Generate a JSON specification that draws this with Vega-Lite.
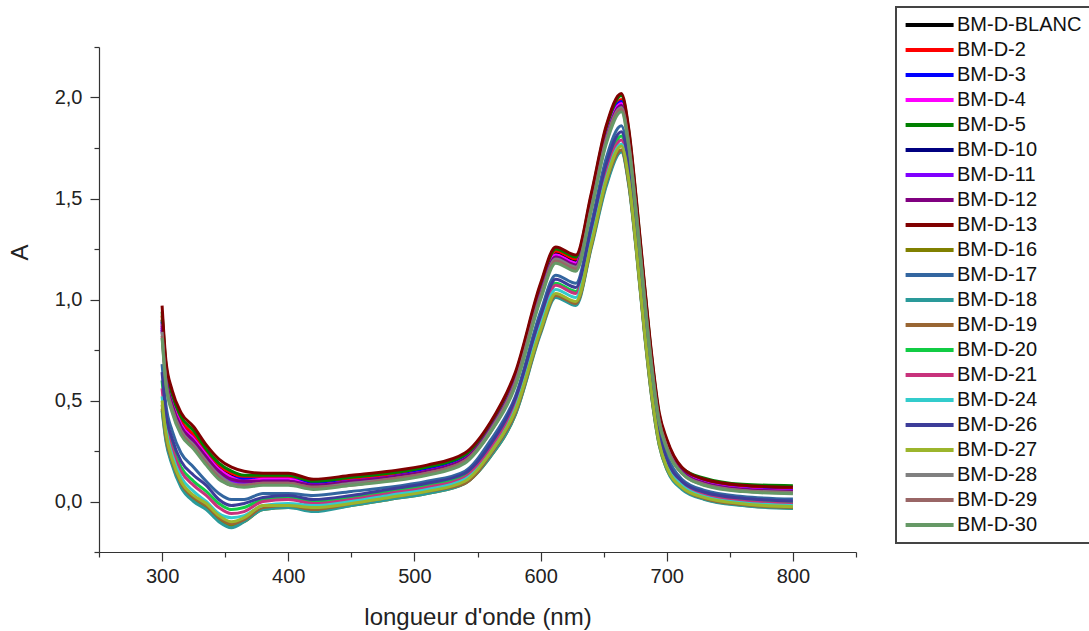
{
"$schema": "https://vega.github.io/schema/vega-lite/v6.json",
"width": 757,
"height": 505,
"autosize": "none",
"padding": {"left": 99, "top": 47, "right": 233, "bottom": 79},
"background": "white",
"config": {"view": {"stroke": null}, "font": "Liberation Sans", "legend": {"strokeWidth": 2}},
"data": {"values": [
{"s":"BLANC","x":300,"y":0.90},{"s":"BLANC","x":303,"y":0.65},{"s":"BLANC","x":308,"y":0.50},{"s":"BLANC","x":315,"y":0.39},{"s":"BLANC","x":325,"y":0.32},{"s":"BLANC","x":335,"y":0.24},{"s":"BLANC","x":345,"y":0.17},{"s":"BLANC","x":355,"y":0.13},{"s":"BLANC","x":365,"y":0.11},{"s":"BLANC","x":380,"y":0.11},{"s":"BLANC","x":400,"y":0.11},{"s":"BLANC","x":420,"y":0.09},{"s":"BLANC","x":450,"y":0.11},{"s":"BLANC","x":480,"y":0.13},{"s":"BLANC","x":510,"y":0.16},{"s":"BLANC","x":540,"y":0.22},{"s":"BLANC","x":560,"y":0.37},{"s":"BLANC","x":580,"y":0.61},{"s":"BLANC","x":600,"y":1.05},{"s":"BLANC","x":612,"y":1.23},{"s":"BLANC","x":628,"y":1.19},{"s":"BLANC","x":640,"y":1.48},{"s":"BLANC","x":652,"y":1.82},{"s":"BLANC","x":664,"y":1.98},{"s":"BLANC","x":670,"y":1.80},{"s":"BLANC","x":676,"y":1.46},{"s":"BLANC","x":682,"y":1.07},{"s":"BLANC","x":688,"y":0.70},{"s":"BLANC","x":694,"y":0.42},{"s":"BLANC","x":700,"y":0.29},{"s":"BLANC","x":712,"y":0.16},{"s":"BLANC","x":730,"y":0.097},{"s":"BLANC","x":760,"y":0.067},{"s":"BLANC","x":800,"y":0.056},
{"s":"2","x":300,"y":0.92},{"s":"2","x":303,"y":0.66},{"s":"2","x":308,"y":0.51},{"s":"2","x":315,"y":0.40},{"s":"2","x":325,"y":0.33},{"s":"2","x":335,"y":0.25},{"s":"2","x":345,"y":0.18},{"s":"2","x":355,"y":0.14},{"s":"2","x":365,"y":0.12},{"s":"2","x":380,"y":0.12},{"s":"2","x":400,"y":0.12},{"s":"2","x":420,"y":0.10},{"s":"2","x":450,"y":0.11},{"s":"2","x":480,"y":0.13},{"s":"2","x":510,"y":0.16},{"s":"2","x":540,"y":0.22},{"s":"2","x":560,"y":0.37},{"s":"2","x":580,"y":0.62},{"s":"2","x":600,"y":1.06},{"s":"2","x":612,"y":1.24},{"s":"2","x":628,"y":1.20},{"s":"2","x":640,"y":1.49},{"s":"2","x":652,"y":1.83},{"s":"2","x":664,"y":1.99},{"s":"2","x":670,"y":1.81},{"s":"2","x":676,"y":1.46},{"s":"2","x":682,"y":1.08},{"s":"2","x":688,"y":0.71},{"s":"2","x":694,"y":0.42},{"s":"2","x":700,"y":0.30},{"s":"2","x":712,"y":0.16},{"s":"2","x":730,"y":0.10},{"s":"2","x":760,"y":0.07},{"s":"2","x":800,"y":0.06},
{"s":"3","x":300,"y":0.89},{"s":"3","x":303,"y":0.64},{"s":"3","x":308,"y":0.49},{"s":"3","x":315,"y":0.38},{"s":"3","x":325,"y":0.31},{"s":"3","x":335,"y":0.23},{"s":"3","x":345,"y":0.16},{"s":"3","x":355,"y":0.12},{"s":"3","x":365,"y":0.11},{"s":"3","x":380,"y":0.11},{"s":"3","x":400,"y":0.11},{"s":"3","x":420,"y":0.09},{"s":"3","x":450,"y":0.10},{"s":"3","x":480,"y":0.12},{"s":"3","x":510,"y":0.16},{"s":"3","x":540,"y":0.22},{"s":"3","x":560,"y":0.36},{"s":"3","x":580,"y":0.61},{"s":"3","x":600,"y":1.04},{"s":"3","x":612,"y":1.22},{"s":"3","x":628,"y":1.18},{"s":"3","x":640,"y":1.48},{"s":"3","x":652,"y":1.82},{"s":"3","x":664,"y":1.98},{"s":"3","x":670,"y":1.80},{"s":"3","x":676,"y":1.45},{"s":"3","x":682,"y":1.06},{"s":"3","x":688,"y":0.70},{"s":"3","x":694,"y":0.42},{"s":"3","x":700,"y":0.29},{"s":"3","x":712,"y":0.15},{"s":"3","x":730,"y":0.095},{"s":"3","x":760,"y":0.065},{"s":"3","x":800,"y":0.054},
{"s":"4","x":300,"y":0.88},{"s":"4","x":303,"y":0.63},{"s":"4","x":308,"y":0.49},{"s":"4","x":315,"y":0.38},{"s":"4","x":325,"y":0.31},{"s":"4","x":335,"y":0.23},{"s":"4","x":345,"y":0.16},{"s":"4","x":355,"y":0.12},{"s":"4","x":365,"y":0.10},{"s":"4","x":380,"y":0.11},{"s":"4","x":400,"y":0.11},{"s":"4","x":420,"y":0.08},{"s":"4","x":450,"y":0.10},{"s":"4","x":480,"y":0.12},{"s":"4","x":510,"y":0.15},{"s":"4","x":540,"y":0.21},{"s":"4","x":560,"y":0.36},{"s":"4","x":580,"y":0.60},{"s":"4","x":600,"y":1.04},{"s":"4","x":612,"y":1.22},{"s":"4","x":628,"y":1.18},{"s":"4","x":640,"y":1.47},{"s":"4","x":652,"y":1.81},{"s":"4","x":664,"y":1.97},{"s":"4","x":670,"y":1.79},{"s":"4","x":676,"y":1.45},{"s":"4","x":682,"y":1.06},{"s":"4","x":688,"y":0.69},{"s":"4","x":694,"y":0.41},{"s":"4","x":700,"y":0.28},{"s":"4","x":712,"y":0.15},{"s":"4","x":730,"y":0.093},{"s":"4","x":760,"y":0.063},{"s":"4","x":800,"y":0.052},
{"s":"5","x":300,"y":0.94},{"s":"5","x":303,"y":0.68},{"s":"5","x":308,"y":0.53},{"s":"5","x":315,"y":0.42},{"s":"5","x":325,"y":0.35},{"s":"5","x":335,"y":0.26},{"s":"5","x":345,"y":0.19},{"s":"5","x":355,"y":0.15},{"s":"5","x":365,"y":0.13},{"s":"5","x":380,"y":0.13},{"s":"5","x":400,"y":0.13},{"s":"5","x":420,"y":0.10},{"s":"5","x":450,"y":0.12},{"s":"5","x":480,"y":0.14},{"s":"5","x":510,"y":0.17},{"s":"5","x":540,"y":0.23},{"s":"5","x":560,"y":0.38},{"s":"5","x":580,"y":0.63},{"s":"5","x":600,"y":1.07},{"s":"5","x":612,"y":1.25},{"s":"5","x":628,"y":1.21},{"s":"5","x":640,"y":1.51},{"s":"5","x":652,"y":1.85},{"s":"5","x":664,"y":2.01},{"s":"5","x":670,"y":1.83},{"s":"5","x":676,"y":1.48},{"s":"5","x":682,"y":1.09},{"s":"5","x":688,"y":0.72},{"s":"5","x":694,"y":0.43},{"s":"5","x":700,"y":0.30},{"s":"5","x":712,"y":0.165},{"s":"5","x":730,"y":0.115},{"s":"5","x":760,"y":0.085},{"s":"5","x":800,"y":0.078},
{"s":"10","x":300,"y":0.85},{"s":"10","x":303,"y":0.61},{"s":"10","x":308,"y":0.46},{"s":"10","x":315,"y":0.35},{"s":"10","x":325,"y":0.28},{"s":"10","x":335,"y":0.21},{"s":"10","x":345,"y":0.14},{"s":"10","x":355,"y":0.10},{"s":"10","x":365,"y":0.09},{"s":"10","x":380,"y":0.10},{"s":"10","x":400,"y":0.10},{"s":"10","x":420,"y":0.07},{"s":"10","x":450,"y":0.09},{"s":"10","x":480,"y":0.11},{"s":"10","x":510,"y":0.14},{"s":"10","x":540,"y":0.20},{"s":"10","x":560,"y":0.35},{"s":"10","x":580,"y":0.59},{"s":"10","x":600,"y":1.02},{"s":"10","x":612,"y":1.20},{"s":"10","x":628,"y":1.16},{"s":"10","x":640,"y":1.46},{"s":"10","x":652,"y":1.79},{"s":"10","x":664,"y":1.95},{"s":"10","x":670,"y":1.78},{"s":"10","x":676,"y":1.43},{"s":"10","x":682,"y":1.04},{"s":"10","x":688,"y":0.68},{"s":"10","x":694,"y":0.40},{"s":"10","x":700,"y":0.28},{"s":"10","x":712,"y":0.15},{"s":"10","x":730,"y":0.087},{"s":"10","x":760,"y":0.057},{"s":"10","x":800,"y":0.046},
{"s":"11","x":300,"y":0.86},{"s":"11","x":303,"y":0.62},{"s":"11","x":308,"y":0.47},{"s":"11","x":315,"y":0.36},{"s":"11","x":325,"y":0.29},{"s":"11","x":335,"y":0.21},{"s":"11","x":345,"y":0.14},{"s":"11","x":355,"y":0.10},{"s":"11","x":365,"y":0.09},{"s":"11","x":380,"y":0.10},{"s":"11","x":400,"y":0.10},{"s":"11","x":420,"y":0.08},{"s":"11","x":450,"y":0.10},{"s":"11","x":480,"y":0.12},{"s":"11","x":510,"y":0.15},{"s":"11","x":540,"y":0.21},{"s":"11","x":560,"y":0.35},{"s":"11","x":580,"y":0.60},{"s":"11","x":600,"y":1.03},{"s":"11","x":612,"y":1.21},{"s":"11","x":628,"y":1.17},{"s":"11","x":640,"y":1.46},{"s":"11","x":652,"y":1.80},{"s":"11","x":664,"y":1.96},{"s":"11","x":670,"y":1.78},{"s":"11","x":676,"y":1.44},{"s":"11","x":682,"y":1.05},{"s":"11","x":688,"y":0.69},{"s":"11","x":694,"y":0.41},{"s":"11","x":700,"y":0.28},{"s":"11","x":712,"y":0.15},{"s":"11","x":730,"y":0.089},{"s":"11","x":760,"y":0.059},{"s":"11","x":800,"y":0.048},
{"s":"12","x":300,"y":0.87},{"s":"12","x":303,"y":0.62},{"s":"12","x":308,"y":0.48},{"s":"12","x":315,"y":0.37},{"s":"12","x":325,"y":0.30},{"s":"12","x":335,"y":0.22},{"s":"12","x":345,"y":0.15},{"s":"12","x":355,"y":0.11},{"s":"12","x":365,"y":0.10},{"s":"12","x":380,"y":0.10},{"s":"12","x":400,"y":0.10},{"s":"12","x":420,"y":0.08},{"s":"12","x":450,"y":0.10},{"s":"12","x":480,"y":0.12},{"s":"12","x":510,"y":0.15},{"s":"12","x":540,"y":0.21},{"s":"12","x":560,"y":0.36},{"s":"12","x":580,"y":0.60},{"s":"12","x":600,"y":1.03},{"s":"12","x":612,"y":1.21},{"s":"12","x":628,"y":1.17},{"s":"12","x":640,"y":1.47},{"s":"12","x":652,"y":1.80},{"s":"12","x":664,"y":1.96},{"s":"12","x":670,"y":1.79},{"s":"12","x":676,"y":1.44},{"s":"12","x":682,"y":1.05},{"s":"12","x":688,"y":0.69},{"s":"12","x":694,"y":0.41},{"s":"12","x":700,"y":0.28},{"s":"12","x":712,"y":0.15},{"s":"12","x":730,"y":0.091},{"s":"12","x":760,"y":0.061},{"s":"12","x":800,"y":0.05},
{"s":"13","x":300,"y":0.97},{"s":"13","x":303,"y":0.70},{"s":"13","x":308,"y":0.55},{"s":"13","x":315,"y":0.44},{"s":"13","x":325,"y":0.37},{"s":"13","x":335,"y":0.28},{"s":"13","x":345,"y":0.21},{"s":"13","x":355,"y":0.17},{"s":"13","x":365,"y":0.15},{"s":"13","x":380,"y":0.14},{"s":"13","x":400,"y":0.14},{"s":"13","x":420,"y":0.11},{"s":"13","x":450,"y":0.13},{"s":"13","x":480,"y":0.15},{"s":"13","x":510,"y":0.18},{"s":"13","x":540,"y":0.24},{"s":"13","x":560,"y":0.39},{"s":"13","x":580,"y":0.64},{"s":"13","x":600,"y":1.08},{"s":"13","x":612,"y":1.26},{"s":"13","x":628,"y":1.22},{"s":"13","x":640,"y":1.52},{"s":"13","x":652,"y":1.86},{"s":"13","x":664,"y":2.02},{"s":"13","x":670,"y":1.84},{"s":"13","x":676,"y":1.49},{"s":"13","x":682,"y":1.10},{"s":"13","x":688,"y":0.73},{"s":"13","x":694,"y":0.44},{"s":"13","x":700,"y":0.31},{"s":"13","x":712,"y":0.17},{"s":"13","x":730,"y":0.11},{"s":"13","x":760,"y":0.08},{"s":"13","x":800,"y":0.07},
{"s":"16","x":300,"y":0.46},{"s":"16","x":303,"y":0.31},{"s":"16","x":308,"y":0.19},{"s":"16","x":315,"y":0.08},{"s":"16","x":325,"y":0.01},{"s":"16","x":335,"y":-0.03},{"s":"16","x":345,"y":-0.09},{"s":"16","x":355,"y":-0.12},{"s":"16","x":365,"y":-0.10},{"s":"16","x":380,"y":-0.04},{"s":"16","x":400,"y":-0.03},{"s":"16","x":420,"y":-0.04},{"s":"16","x":450,"y":-0.02},{"s":"16","x":480,"y":0.01},{"s":"16","x":510,"y":0.04},{"s":"16","x":540,"y":0.09},{"s":"16","x":560,"y":0.22},{"s":"16","x":580,"y":0.43},{"s":"16","x":600,"y":0.84},{"s":"16","x":612,"y":1.02},{"s":"16","x":628,"y":0.98},{"s":"16","x":640,"y":1.26},{"s":"16","x":652,"y":1.57},{"s":"16","x":664,"y":1.74},{"s":"16","x":670,"y":1.57},{"s":"16","x":676,"y":1.24},{"s":"16","x":682,"y":0.86},{"s":"16","x":688,"y":0.52},{"s":"16","x":694,"y":0.28},{"s":"16","x":700,"y":0.16},{"s":"16","x":712,"y":0.07},{"s":"16","x":730,"y":0.012},{"s":"16","x":760,"y":-0.018},{"s":"16","x":800,"y":-0.033},
{"s":"17","x":300,"y":0.68},{"s":"17","x":303,"y":0.48},{"s":"17","x":308,"y":0.35},{"s":"17","x":315,"y":0.24},{"s":"17","x":325,"y":0.17},{"s":"17","x":335,"y":0.10},{"s":"17","x":345,"y":0.04},{"s":"17","x":355,"y":0.01},{"s":"17","x":365,"y":0.01},{"s":"17","x":380,"y":0.04},{"s":"17","x":400,"y":0.04},{"s":"17","x":420,"y":0.03},{"s":"17","x":450,"y":0.05},{"s":"17","x":480,"y":0.07},{"s":"17","x":510,"y":0.10},{"s":"17","x":540,"y":0.15},{"s":"17","x":560,"y":0.30},{"s":"17","x":580,"y":0.52},{"s":"17","x":600,"y":0.94},{"s":"17","x":612,"y":1.12},{"s":"17","x":628,"y":1.08},{"s":"17","x":640,"y":1.37},{"s":"17","x":652,"y":1.70},{"s":"17","x":664,"y":1.86},{"s":"17","x":670,"y":1.69},{"s":"17","x":676,"y":1.35},{"s":"17","x":682,"y":0.96},{"s":"17","x":688,"y":0.61},{"s":"17","x":694,"y":0.35},{"s":"17","x":700,"y":0.23},{"s":"17","x":712,"y":0.11},{"s":"17","x":730,"y":0.055},{"s":"17","x":760,"y":0.025},{"s":"17","x":800,"y":0.012},
{"s":"18","x":300,"y":0.45},{"s":"18","x":303,"y":0.30},{"s":"18","x":308,"y":0.18},{"s":"18","x":315,"y":0.07},{"s":"18","x":325,"y":0.00},{"s":"18","x":335,"y":-0.04},{"s":"18","x":345,"y":-0.10},{"s":"18","x":355,"y":-0.13},{"s":"18","x":365,"y":-0.10},{"s":"18","x":380,"y":-0.04},{"s":"18","x":400,"y":-0.03},{"s":"18","x":420,"y":-0.05},{"s":"18","x":450,"y":-0.02},{"s":"18","x":480,"y":0.01},{"s":"18","x":510,"y":0.04},{"s":"18","x":540,"y":0.09},{"s":"18","x":560,"y":0.22},{"s":"18","x":580,"y":0.43},{"s":"18","x":600,"y":0.83},{"s":"18","x":612,"y":1.01},{"s":"18","x":628,"y":0.97},{"s":"18","x":640,"y":1.25},{"s":"18","x":652,"y":1.56},{"s":"18","x":664,"y":1.73},{"s":"18","x":670,"y":1.56},{"s":"18","x":676,"y":1.23},{"s":"18","x":682,"y":0.85},{"s":"18","x":688,"y":0.52},{"s":"18","x":694,"y":0.28},{"s":"18","x":700,"y":0.16},{"s":"18","x":712,"y":0.06},{"s":"18","x":730,"y":0.01},{"s":"18","x":760,"y":-0.02},{"s":"18","x":800,"y":-0.035},
{"s":"19","x":300,"y":0.48},{"s":"19","x":303,"y":0.32},{"s":"19","x":308,"y":0.20},{"s":"19","x":315,"y":0.09},{"s":"19","x":325,"y":0.02},{"s":"19","x":335,"y":-0.02},{"s":"19","x":345,"y":-0.08},{"s":"19","x":355,"y":-0.11},{"s":"19","x":365,"y":-0.09},{"s":"19","x":380,"y":-0.03},{"s":"19","x":400,"y":-0.02},{"s":"19","x":420,"y":-0.04},{"s":"19","x":450,"y":-0.01},{"s":"19","x":480,"y":0.02},{"s":"19","x":510,"y":0.05},{"s":"19","x":540,"y":0.09},{"s":"19","x":560,"y":0.23},{"s":"19","x":580,"y":0.44},{"s":"19","x":600,"y":0.84},{"s":"19","x":612,"y":1.02},{"s":"19","x":628,"y":0.98},{"s":"19","x":640,"y":1.26},{"s":"19","x":652,"y":1.58},{"s":"19","x":664,"y":1.74},{"s":"19","x":670,"y":1.57},{"s":"19","x":676,"y":1.24},{"s":"19","x":682,"y":0.86},{"s":"19","x":688,"y":0.53},{"s":"19","x":694,"y":0.29},{"s":"19","x":700,"y":0.17},{"s":"19","x":712,"y":0.07},{"s":"19","x":730,"y":0.015},{"s":"19","x":760,"y":-0.015},{"s":"19","x":800,"y":-0.03},
{"s":"20","x":300,"y":0.60},{"s":"20","x":303,"y":0.41},{"s":"20","x":308,"y":0.28},{"s":"20","x":315,"y":0.17},{"s":"20","x":325,"y":0.10},{"s":"20","x":335,"y":0.05},{"s":"20","x":345,"y":-0.01},{"s":"20","x":355,"y":-0.04},{"s":"20","x":365,"y":-0.03},{"s":"20","x":380,"y":0.01},{"s":"20","x":400,"y":0.02},{"s":"20","x":420,"y":0.00},{"s":"20","x":450,"y":0.02},{"s":"20","x":480,"y":0.05},{"s":"20","x":510,"y":0.08},{"s":"20","x":540,"y":0.13},{"s":"20","x":560,"y":0.27},{"s":"20","x":580,"y":0.49},{"s":"20","x":600,"y":0.90},{"s":"20","x":612,"y":1.08},{"s":"20","x":628,"y":1.04},{"s":"20","x":640,"y":1.33},{"s":"20","x":652,"y":1.64},{"s":"20","x":664,"y":1.81},{"s":"20","x":670,"y":1.64},{"s":"20","x":676,"y":1.30},{"s":"20","x":682,"y":0.92},{"s":"20","x":688,"y":0.58},{"s":"20","x":694,"y":0.32},{"s":"20","x":700,"y":0.20},{"s":"20","x":712,"y":0.09},{"s":"20","x":730,"y":0.038},{"s":"20","x":760,"y":0.008},{"s":"20","x":800,"y":-0.006},
{"s":"21","x":300,"y":0.56},{"s":"21","x":303,"y":0.39},{"s":"21","x":308,"y":0.26},{"s":"21","x":315,"y":0.15},{"s":"21","x":325,"y":0.08},{"s":"21","x":335,"y":0.03},{"s":"21","x":345,"y":-0.03},{"s":"21","x":355,"y":-0.06},{"s":"21","x":365,"y":-0.05},{"s":"21","x":380,"y":0.00},{"s":"21","x":400,"y":0.01},{"s":"21","x":420,"y":-0.01},{"s":"21","x":450,"y":0.01},{"s":"21","x":480,"y":0.04},{"s":"21","x":510,"y":0.07},{"s":"21","x":540,"y":0.12},{"s":"21","x":560,"y":0.26},{"s":"21","x":580,"y":0.48},{"s":"21","x":600,"y":0.89},{"s":"21","x":612,"y":1.07},{"s":"21","x":628,"y":1.03},{"s":"21","x":640,"y":1.31},{"s":"21","x":652,"y":1.63},{"s":"21","x":664,"y":1.79},{"s":"21","x":670,"y":1.62},{"s":"21","x":676,"y":1.29},{"s":"21","x":682,"y":0.91},{"s":"21","x":688,"y":0.57},{"s":"21","x":694,"y":0.32},{"s":"21","x":700,"y":0.19},{"s":"21","x":712,"y":0.09},{"s":"21","x":730,"y":0.032},{"s":"21","x":760,"y":0.002},{"s":"21","x":800,"y":-0.012},
{"s":"24","x":300,"y":0.52},{"s":"24","x":303,"y":0.36},{"s":"24","x":308,"y":0.23},{"s":"24","x":315,"y":0.12},{"s":"24","x":325,"y":0.05},{"s":"24","x":335,"y":0.00},{"s":"24","x":345,"y":-0.06},{"s":"24","x":355,"y":-0.08},{"s":"24","x":365,"y":-0.07},{"s":"24","x":380,"y":-0.02},{"s":"24","x":400,"y":-0.01},{"s":"24","x":420,"y":-0.02},{"s":"24","x":450,"y":0.00},{"s":"24","x":480,"y":0.03},{"s":"24","x":510,"y":0.06},{"s":"24","x":540,"y":0.11},{"s":"24","x":560,"y":0.24},{"s":"24","x":580,"y":0.46},{"s":"24","x":600,"y":0.87},{"s":"24","x":612,"y":1.05},{"s":"24","x":628,"y":1.01},{"s":"24","x":640,"y":1.29},{"s":"24","x":652,"y":1.60},{"s":"24","x":664,"y":1.77},{"s":"24","x":670,"y":1.60},{"s":"24","x":676,"y":1.27},{"s":"24","x":682,"y":0.89},{"s":"24","x":688,"y":0.55},{"s":"24","x":694,"y":0.30},{"s":"24","x":700,"y":0.18},{"s":"24","x":712,"y":0.08},{"s":"24","x":730,"y":0.024},{"s":"24","x":760,"y":-0.006},{"s":"24","x":800,"y":-0.02},
{"s":"26","x":300,"y":0.64},{"s":"26","x":303,"y":0.44},{"s":"26","x":308,"y":0.31},{"s":"26","x":315,"y":0.20},{"s":"26","x":325,"y":0.13},{"s":"26","x":335,"y":0.08},{"s":"26","x":345,"y":0.01},{"s":"26","x":355,"y":-0.02},{"s":"26","x":365,"y":-0.01},{"s":"26","x":380,"y":0.02},{"s":"26","x":400,"y":0.03},{"s":"26","x":420,"y":0.01},{"s":"26","x":450,"y":0.03},{"s":"26","x":480,"y":0.06},{"s":"26","x":510,"y":0.09},{"s":"26","x":540,"y":0.14},{"s":"26","x":560,"y":0.28},{"s":"26","x":580,"y":0.51},{"s":"26","x":600,"y":0.92},{"s":"26","x":612,"y":1.10},{"s":"26","x":628,"y":1.06},{"s":"26","x":640,"y":1.35},{"s":"26","x":652,"y":1.67},{"s":"26","x":664,"y":1.83},{"s":"26","x":670,"y":1.66},{"s":"26","x":676,"y":1.32},{"s":"26","x":682,"y":0.94},{"s":"26","x":688,"y":0.60},{"s":"26","x":694,"y":0.34},{"s":"26","x":700,"y":0.21},{"s":"26","x":712,"y":0.10},{"s":"26","x":730,"y":0.046},{"s":"26","x":760,"y":0.016},{"s":"26","x":800,"y":0.003},
{"s":"27","x":300,"y":0.50},{"s":"27","x":303,"y":0.34},{"s":"27","x":308,"y":0.21},{"s":"27","x":315,"y":0.10},{"s":"27","x":325,"y":0.03},{"s":"27","x":335,"y":-0.01},{"s":"27","x":345,"y":-0.07},{"s":"27","x":355,"y":-0.10},{"s":"27","x":365,"y":-0.08},{"s":"27","x":380,"y":-0.02},{"s":"27","x":400,"y":-0.02},{"s":"27","x":420,"y":-0.03},{"s":"27","x":450,"y":-0.01},{"s":"27","x":480,"y":0.02},{"s":"27","x":510,"y":0.05},{"s":"27","x":540,"y":0.10},{"s":"27","x":560,"y":0.24},{"s":"27","x":580,"y":0.45},{"s":"27","x":600,"y":0.85},{"s":"27","x":612,"y":1.03},{"s":"27","x":628,"y":0.99},{"s":"27","x":640,"y":1.27},{"s":"27","x":652,"y":1.59},{"s":"27","x":664,"y":1.76},{"s":"27","x":670,"y":1.59},{"s":"27","x":676,"y":1.25},{"s":"27","x":682,"y":0.87},{"s":"27","x":688,"y":0.54},{"s":"27","x":694,"y":0.29},{"s":"27","x":700,"y":0.17},{"s":"27","x":712,"y":0.07},{"s":"27","x":730,"y":0.019},{"s":"27","x":760,"y":-0.011},{"s":"27","x":800,"y":-0.026},
{"s":"28","x":300,"y":0.84},{"s":"28","x":303,"y":0.60},{"s":"28","x":308,"y":0.46},{"s":"28","x":315,"y":0.35},{"s":"28","x":325,"y":0.28},{"s":"28","x":335,"y":0.20},{"s":"28","x":345,"y":0.13},{"s":"28","x":355,"y":0.09},{"s":"28","x":365,"y":0.08},{"s":"28","x":380,"y":0.09},{"s":"28","x":400,"y":0.09},{"s":"28","x":420,"y":0.07},{"s":"28","x":450,"y":0.09},{"s":"28","x":480,"y":0.11},{"s":"28","x":510,"y":0.14},{"s":"28","x":540,"y":0.20},{"s":"28","x":560,"y":0.35},{"s":"28","x":580,"y":0.59},{"s":"28","x":600,"y":1.02},{"s":"28","x":612,"y":1.20},{"s":"28","x":628,"y":1.16},{"s":"28","x":640,"y":1.45},{"s":"28","x":652,"y":1.79},{"s":"28","x":664,"y":1.95},{"s":"28","x":670,"y":1.77},{"s":"28","x":676,"y":1.43},{"s":"28","x":682,"y":1.04},{"s":"28","x":688,"y":0.68},{"s":"28","x":694,"y":0.40},{"s":"28","x":700,"y":0.27},{"s":"28","x":712,"y":0.14},{"s":"28","x":730,"y":0.085},{"s":"28","x":760,"y":0.055},{"s":"28","x":800,"y":0.044},
{"s":"29","x":300,"y":0.82},{"s":"29","x":303,"y":0.59},{"s":"29","x":308,"y":0.45},{"s":"29","x":315,"y":0.34},{"s":"29","x":325,"y":0.27},{"s":"29","x":335,"y":0.19},{"s":"29","x":345,"y":0.12},{"s":"29","x":355,"y":0.08},{"s":"29","x":365,"y":0.08},{"s":"29","x":380,"y":0.09},{"s":"29","x":400,"y":0.09},{"s":"29","x":420,"y":0.07},{"s":"29","x":450,"y":0.08},{"s":"29","x":480,"y":0.11},{"s":"29","x":510,"y":0.14},{"s":"29","x":540,"y":0.20},{"s":"29","x":560,"y":0.34},{"s":"29","x":580,"y":0.58},{"s":"29","x":600,"y":1.01},{"s":"29","x":612,"y":1.19},{"s":"29","x":628,"y":1.15},{"s":"29","x":640,"y":1.44},{"s":"29","x":652,"y":1.78},{"s":"29","x":664,"y":1.94},{"s":"29","x":670,"y":1.76},{"s":"29","x":676,"y":1.42},{"s":"29","x":682,"y":1.03},{"s":"29","x":688,"y":0.67},{"s":"29","x":694,"y":0.40},{"s":"29","x":700,"y":0.27},{"s":"29","x":712,"y":0.14},{"s":"29","x":730,"y":0.082},{"s":"29","x":760,"y":0.052},{"s":"29","x":800,"y":0.041},
{"s":"30","x":300,"y":0.81},{"s":"30","x":303,"y":0.58},{"s":"30","x":308,"y":0.44},{"s":"30","x":315,"y":0.33},{"s":"30","x":325,"y":0.26},{"s":"30","x":335,"y":0.18},{"s":"30","x":345,"y":0.11},{"s":"30","x":355,"y":0.08},{"s":"30","x":365,"y":0.07},{"s":"30","x":380,"y":0.08},{"s":"30","x":400,"y":0.08},{"s":"30","x":420,"y":0.06},{"s":"30","x":450,"y":0.08},{"s":"30","x":480,"y":0.10},{"s":"30","x":510,"y":0.13},{"s":"30","x":540,"y":0.19},{"s":"30","x":560,"y":0.34},{"s":"30","x":580,"y":0.57},{"s":"30","x":600,"y":1.00},{"s":"30","x":612,"y":1.18},{"s":"30","x":628,"y":1.14},{"s":"30","x":640,"y":1.44},{"s":"30","x":652,"y":1.77},{"s":"30","x":664,"y":1.93},{"s":"30","x":670,"y":1.75},{"s":"30","x":676,"y":1.41},{"s":"30","x":682,"y":1.02},{"s":"30","x":688,"y":0.66},{"s":"30","x":694,"y":0.39},{"s":"30","x":700,"y":0.26},{"s":"30","x":712,"y":0.14},{"s":"30","x":730,"y":0.079},{"s":"30","x":760,"y":0.049},{"s":"30","x":800,"y":0.038}
]},
"mark": {"type": "line", "strokeWidth": 3, "interpolate": "monotone", "clip": true},
"encoding": {
"x": {"field": "x", "type": "quantitative",
 "scale": {"domain": [250, 850], "nice": false, "zero": false},
 "axis": {"title": "longueur d'onde (nm)", "values": [250,300,350,400,450,500,550,600,650,700,750,800,850],
  "labelExpr": "datum.value % 100 === 0 ? datum.label : ''",
  "tickSize": {"condition": {"test": "datum.value % 100 === 0", "value": 9}, "value": 5},
  "grid": false, "domainColor": "#333", "tickColor": "#333", "tickWidth": 1.2, "domainWidth": 1.2,
  "labelFontSize": 20, "labelColor": "#222", "labelFont": "Liberation Sans", "labelPadding": 5, "labelOverlap": false, "labelFlush": false,
  "titleFontSize": 24, "titleFontWeight": "normal", "titleColor": "#222", "titleFont": "Liberation Sans", "titleY": 72, "titleBaseline": "alphabetic"}},
"y": {"field": "y", "type": "quantitative",
 "scale": {"domain": [-0.25, 2.25], "nice": false, "zero": false},
 "axis": {"title": "A", "values": [-0.25,0,0.25,0.5,0.75,1,1.25,1.5,1.75,2,2.25],
  "labelExpr": "abs(datum.value*2 - round(datum.value*2)) < 0.001 ? replace(format(datum.value, '.1f'), '.', ',') : ''",
  "tickSize": {"condition": {"test": "abs(datum.value*2 - round(datum.value*2)) < 0.001", "value": 9}, "value": 5},
  "grid": false, "domainColor": "#333", "tickColor": "#333", "tickWidth": 1.2, "domainWidth": 1.2,
  "labelFontSize": 20, "labelColor": "#222", "labelFont": "Liberation Sans", "labelPadding": 8, "labelOverlap": false, "labelFlush": false,
  "titleFontSize": 24, "titleFontWeight": "normal", "titleColor": "#222", "titleFont": "Liberation Sans",
  "titleAngle": 270, "titleAlign": "center", "titleBaseline": "middle", "titleX": -79, "titleY": 205}},
"color": {"field": "s", "type": "nominal",
 "scale": {"domain": ["BLANC","2","3","4","5","10","11","12","13","16","17","18","19","20","21","24","26","27","28","29","30"],
  "range": ["#000000","#ff0000","#0000ff","#ff00ff","#008000","#000080","#8000ff","#800080","#800000","#808000","#3366a0","#2a9a9a","#996633","#11cc44","#c8327c","#33cccc","#3d3d99","#9cb52c","#808080","#996666","#669966"]},
 "legend": {"orient": "none", "legendX": 797, "legendY": -40, "title": null,
  "labelExpr": "'BM-D-' + datum.label", "labelFontSize": 20, "labelFont": "Liberation Sans", "labelColor": "#111", "labelLimit": 300,
  "symbolType": "M-1.4,0H6.6", "symbolSize": 144, "symbolStrokeWidth": 4, "labelOffset": 33,
  "rowPadding": 5, "padding": 8, "strokeColor": "#444"}}
}
}
